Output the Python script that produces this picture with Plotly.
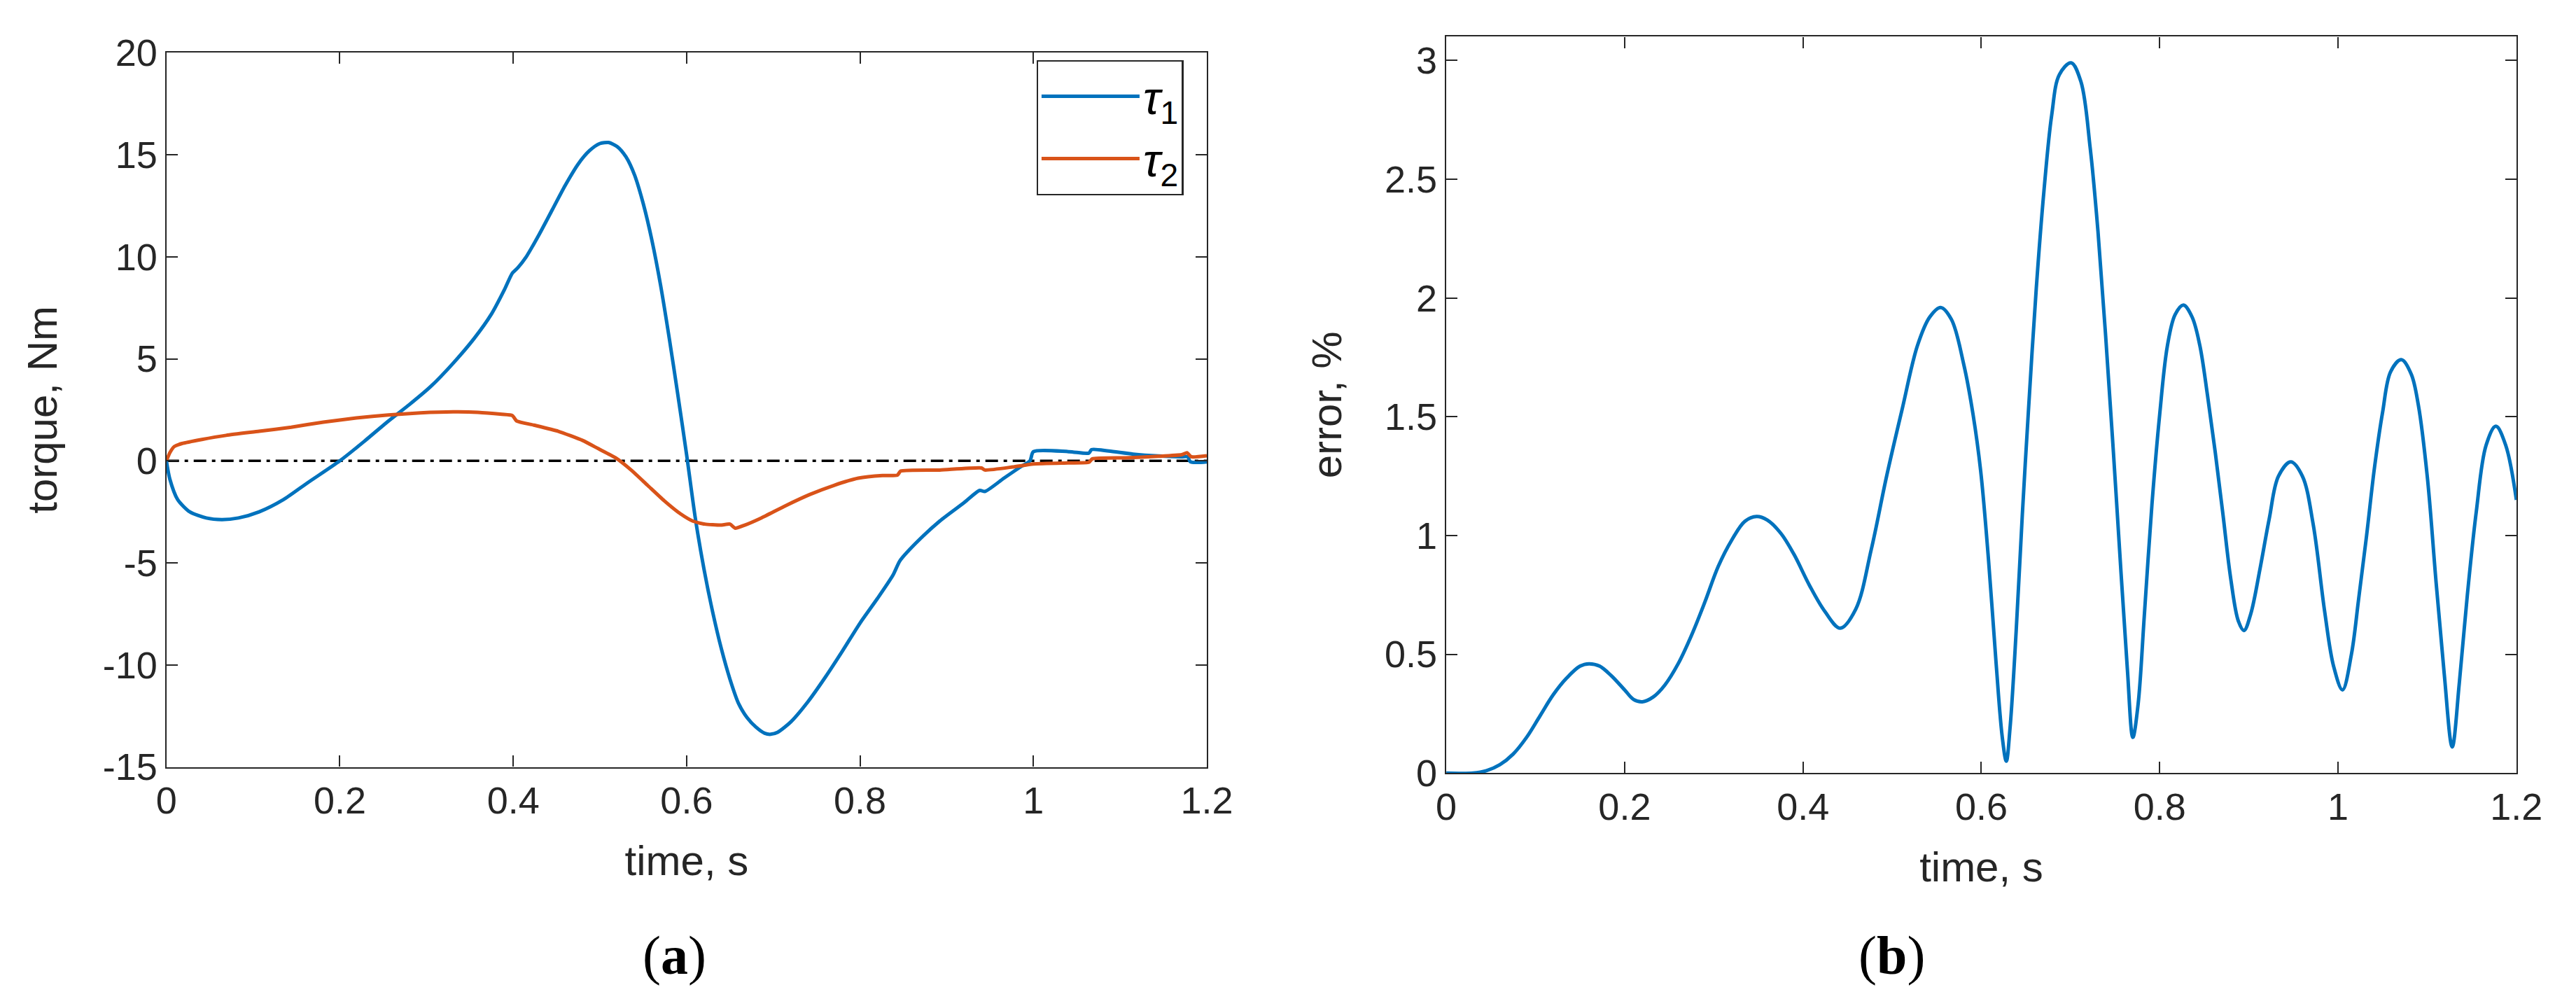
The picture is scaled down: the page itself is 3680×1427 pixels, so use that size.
import plotly.graph_objects as go
from plotly.subplots import make_subplots

# panel (a): joint torques, Nm
T_TAU1 = [0, 0.004, 0.013, 0.027, 0.046, 0.064, 0.083, 0.107, 0.135, 0.163, 0.2,
          0.228, 0.256, 0.28, 0.305, 0.33, 0.355, 0.375, 0.39, 0.399, 0.405,
          0.415, 0.43, 0.445, 0.46, 0.475, 0.488, 0.5, 0.51, 0.52, 0.53,
          0.54, 0.55, 0.56, 0.57, 0.58, 0.59, 0.6, 0.61, 0.62, 0.63,
          0.64, 0.65, 0.66, 0.67, 0.68, 0.69, 0.697, 0.705, 0.72, 0.74,
          0.76, 0.78, 0.8, 0.82, 0.838, 0.846, 0.864, 0.892, 0.92, 0.938,
          0.944, 0.966, 0.985, 0.996, 1.0, 1.041, 1.064, 1.067, 1.087, 1.115,
          1.144, 1.171, 1.178, 1.181, 1.2]
TAU1 = [0, -0.9, -1.9, -2.5, -2.8, -2.88, -2.8, -2.5, -1.9, -1.07, 0,
        0.95, 1.95, 2.75, 3.65, 4.75, 6.0, 7.2, 8.4, 9.2, 9.45,
        10.0, 11.1, 12.3, 13.5, 14.55, 15.2, 15.55, 15.6, 15.4, 14.9,
        14.0, 12.6, 10.8, 8.6, 6.0, 3.2, 0.3, -2.8, -5.3, -7.4,
        -9.2, -10.7, -11.9, -12.6, -13.05, -13.35, -13.4, -13.3, -12.8, -11.8,
        -10.6, -9.3, -7.95, -6.75, -5.6, -4.9, -4.05, -2.95, -2.05, -1.45,
        -1.5, -0.85, -0.3, 0, 0.45, 0.45, 0.38, 0.55, 0.48, 0.33,
        0.24, 0.2, 0.2, -0.05, -0.05]

T_TAU2 = [0, 0.004, 0.009, 0.018, 0.041, 0.069, 0.107, 0.144, 0.181, 0.219,
          0.256, 0.293, 0.331, 0.359, 0.387, 0.399, 0.404, 0.424, 0.452, 0.48,
          0.498, 0.518, 0.536, 0.555, 0.574, 0.593, 0.607, 0.621, 0.639, 0.65,
          0.656, 0.667, 0.686, 0.714, 0.742, 0.77, 0.798, 0.826, 0.843, 0.847,
          0.892, 0.94, 0.944, 0.976, 1.0, 1.041, 1.064, 1.068, 1.106, 1.144,
          1.171, 1.177, 1.182, 1.2]
TAU2 = [0, 0.4, 0.7, 0.85, 1.05, 1.25, 1.45, 1.65, 1.9, 2.1,
        2.25, 2.35, 2.4, 2.38, 2.28, 2.22, 1.95, 1.75, 1.45, 1.0,
        0.6, 0.15, -0.45, -1.2, -1.95, -2.6, -2.95, -3.1, -3.15, -3.1,
        -3.3, -3.15, -2.8, -2.2, -1.65, -1.2, -0.85, -0.72, -0.7, -0.5,
        -0.45, -0.35, -0.45, -0.3, -0.15, -0.1, -0.07, 0.1, 0.15, 0.22,
        0.3, 0.4, 0.2, 0.25]

ZERO_T = [0, 1.2]
ZERO_Y = [0, 0]

# panel (b): tracking error, %
T_ERR = [0, 0.03, 0.045, 0.06, 0.075, 0.09, 0.105, 0.12, 0.135, 0.15,
         0.16, 0.172, 0.185, 0.2, 0.21, 0.22, 0.232, 0.245, 0.26, 0.275,
         0.29, 0.305, 0.32, 0.335, 0.348, 0.36, 0.375, 0.39, 0.4073, 0.4246,
         0.4419, 0.4592, 0.4765, 0.4938, 0.5111, 0.5284, 0.5422, 0.5543, 0.5664, 0.5803,
         0.5907, 0.5993, 0.608, 0.6166, 0.6235, 0.628, 0.6322, 0.6391, 0.646, 0.6529,
         0.6616, 0.6702, 0.6789, 0.6875, 0.7007, 0.7117, 0.7221, 0.7308, 0.7394, 0.7481,
         0.7567, 0.7637, 0.7699, 0.7758, 0.7827, 0.7913, 0.8, 0.8087, 0.8173, 0.8266,
         0.8363, 0.845, 0.8536, 0.8623, 0.8709, 0.8796, 0.8882, 0.8945, 0.9021, 0.9125,
         0.9228, 0.9332, 0.9471, 0.96, 0.972, 0.985, 0.995, 1.005, 1.015, 1.023,
         1.032, 1.041, 1.05, 1.059, 1.071, 1.082, 1.09, 1.1, 1.11, 1.119,
         1.128, 1.136, 1.145, 1.155, 1.166, 1.177, 1.188, 1.2]
ERR = [0, 0.0, 0.01, 0.035, 0.08, 0.15, 0.24, 0.33, 0.4, 0.45,
       0.46, 0.45, 0.41, 0.35, 0.31, 0.3, 0.32, 0.37, 0.46, 0.58,
       0.72, 0.87, 0.98, 1.06, 1.08, 1.065, 1.01, 0.92, 0.79, 0.68,
       0.61, 0.69, 0.94, 1.25, 1.53, 1.8, 1.92, 1.96, 1.91, 1.72,
       1.51, 1.27, 0.9, 0.46, 0.15, 0.05, 0.19, 0.6, 1.09, 1.53,
       2.04, 2.45, 2.77, 2.94, 2.99, 2.91, 2.63, 2.28, 1.84, 1.35,
       0.84, 0.44, 0.15, 0.29, 0.66, 1.13, 1.51, 1.8, 1.93, 1.97,
       1.92, 1.8, 1.59, 1.35, 1.09, 0.82, 0.64, 0.6, 0.67, 0.86,
       1.07, 1.25, 1.31, 1.25, 1.05, 0.68, 0.45, 0.35, 0.5, 0.73,
       1.0, 1.29, 1.52, 1.69, 1.74, 1.68, 1.55, 1.25, 0.8, 0.42,
       0.11, 0.38, 0.75, 1.1, 1.38, 1.46, 1.38, 1.15]

X_TICKS = [0, 0.2, 0.4, 0.6, 0.8, 1, 1.2]
X_LABELS = ["0", "0.2", "0.4", "0.6", "0.8", "1", "1.2"]
Y_TICKS_A = [-15, -10, -5, 0, 5, 10, 15, 20]
Y_LABELS_A = ["-15", "-10", "-5", "0", "5", "10", "15", "20"]
Y_TICKS_B = [0, 0.5, 1, 1.5, 2, 2.5, 3]
Y_LABELS_B = ["0", "0.5", "1", "1.5", "2", "2.5", "3"]

BLUE = "#0072BD"
ORANGE = "#D95319"
INK = "#262626"
FONT = "Liberation Sans"

fig = make_subplots(rows=1, cols=2)

fig.add_trace(go.Scatter(x=ZERO_T, y=ZERO_Y, mode="lines", showlegend=False,
                         line=dict(color="black", width=3.5, dash="18px,8px,5px,8px")),
              row=1, col=1)
fig.add_trace(go.Scatter(x=T_TAU1, y=TAU1, mode="lines", name="<i>τ</i><sub>1</sub>",
                         line=dict(color=BLUE, width=5, shape="spline", smoothing=0.7)),
              row=1, col=1)
fig.add_trace(go.Scatter(x=T_TAU2, y=TAU2, mode="lines", name="<i>τ</i><sub>2</sub>",
                         line=dict(color=ORANGE, width=5, shape="spline", smoothing=0.5)),
              row=1, col=1)
fig.add_trace(go.Scatter(x=T_ERR, y=ERR, mode="lines", showlegend=False,
                         line=dict(color=BLUE, width=5, shape="spline", smoothing=1.0)),
              row=1, col=2)

axis_common = dict(showline=True, linecolor=INK, linewidth=2.3, mirror="ticks",
                   ticks="inside", ticklen=16, tickwidth=2, tickcolor=INK,
                   showgrid=False, zeroline=False,
                   tickfont=dict(family=FONT, size=54, color=INK),
                   title_font=dict(family=FONT, size=60, color=INK))

fig.update_xaxes(**axis_common, range=[0, 1.2], tickvals=X_TICKS, ticktext=X_LABELS,
                 title_text="time, s", title_standoff=36)
fig.update_xaxes(domain=[0.0592, 0.4690], row=1, col=1)
fig.update_xaxes(domain=[0.5633, 0.9848], row=1, col=2)

fig.update_yaxes(**axis_common)
fig.update_yaxes(domain=[0.2264, 0.9727], range=[-15, 20], tickvals=Y_TICKS_A,
                 ticktext=Y_LABELS_A, title_text="torque, Nm", title_standoff=46,
                 row=1, col=1)
fig.update_yaxes(domain=[0.2200, 0.9895], range=[0, 3.1], tickvals=Y_TICKS_B,
                 ticktext=Y_LABELS_B, title_text="error, %", title_standoff=42,
                 row=1, col=2)

fig.add_annotation(text="(<b>a</b>)", xref="paper", yref="paper", x=906 / 3680,
                   y=(1427 - 1385) / 1427, showarrow=False, yanchor="middle",
                   font=dict(family="Liberation Serif", size=78, color="black"))
fig.add_annotation(text="(<b>b</b>)", xref="paper", yref="paper", x=2769 / 3680,
                   y=(1427 - 1385) / 1427, showarrow=False, yanchor="middle",
                   font=dict(family="Liberation Serif", size=78, color="black"))

fig.update_layout(
    width=3680, height=1427,
    margin=dict(l=0, r=0, t=0, b=0),
    paper_bgcolor="white", plot_bgcolor="white",
    legend=dict(x=1692 / 3680, y=(1427 - 50) / 1427, xanchor="right", yanchor="top",
                bordercolor=INK, borderwidth=2.3, bgcolor="white", itemwidth=140,
                font=dict(family=FONT, size=66, color="black")),
)

fig.write_html("out.html")
